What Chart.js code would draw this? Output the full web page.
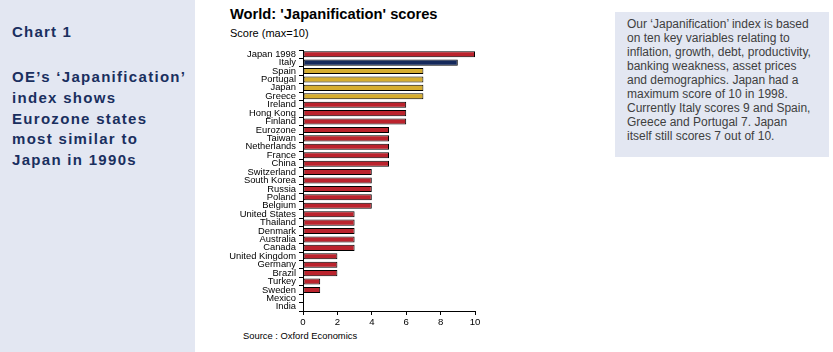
<!DOCTYPE html>
<html>
<head>
<meta charset="utf-8">
<script src="https://cdn.jsdelivr.net/npm/chart.js@4"></script>
<style>
    body { margin: 0; width: 833px; height: 352px; background: #fff; font-family: "Liberation Sans", Arial, sans-serif; position: relative; overflow: hidden; }
    .side { position: absolute; left: 0; top: 0; width: 195px; height: 352px; background: #e3e7f2; }
    .side .head { position: absolute; left: 12px; top: 23px; font-size: 15px; font-weight: bold; color: #1a2f5f; letter-spacing: 1.2px; }
    .side .lede { position: absolute; left: 12px; top: 67px; font-size: 15px; font-weight: bold; color: #1a2f5f; line-height: 20.8px; letter-spacing: 1.3px; }
    .note { position: absolute; left: 615px; top: 12px; width: 214px; height: 145px; background: #e3e7f2; }
    .note p { margin: 0; position: absolute; left: 12px; top: 5px; font-size: 12px; line-height: 14px; color: #404040; }
    .title { position: absolute; left: 230px; top: 6px; font-size: 14.7px; font-weight: bold; color: #000; }
    .unit { position: absolute; left: 230px; top: 27px; font-size: 11px; color: #000; }
    .source { position: absolute; left: 243px; top: 330px; font-size: 9.4px; color: #000; }
    #wrap { position: absolute; left: 200px; top: 40px; width: 290px; height: 300px; }
</style>
</head>
<body>
<div class="side">
    <div class="head">Chart 1</div>
    <div class="lede">OE’s ‘Japanification’<br>index shows<br>Eurozone states<br>most similar to<br>Japan in 1990s</div>
</div>
<div class="title">World: 'Japanification' scores</div>
<div class="unit">Score (max=10)</div>
<div class="source">Source : Oxford Economics</div>
<div class="note"><p>Our ‘Japanification’ index is based<br>on ten key variables relating to<br>inflation, growth, debt, productivity,<br>banking weakness, asset prices<br>and demographics. Japan had a<br>maximum score of 10 in 1998.<br>Currently Italy scores 9 and Spain,<br>Greece and Portugal 7. Japan<br>itself still scores 7 out of 10.</p></div>
<div id="wrap"><canvas id="chart"></canvas></div>
<script>
// Data
const countries = ['Japan 1998', 'Italy', 'Spain', 'Portugal', 'Japan', 'Greece', 'Ireland', 'Hong Kong', 'Finland',
    'Eurozone', 'Taiwan', 'Netherlands', 'France', 'China', 'Switzerland', 'South Korea', 'Russia', 'Poland', 'Belgium',
    'United States', 'Thailand', 'Denmark', 'Australia', 'Canada', 'United Kingdom', 'Germany', 'Brazil', 'Turkey',
    'Sweden', 'Mexico', 'India'];
const scores = [10, 9, 7, 7, 7, 7, 6, 6, 6, 5, 5, 5, 5, 5, 4, 4, 4, 4, 4, 3, 3, 3, 3, 3, 2, 2, 2, 1, 1, 0, 0];
const highlightGroup = ['base', 'italy', 'peer', 'peer', 'peer', 'peer', 'base', 'base', 'base', 'base', 'base', 'base',
    'base', 'base', 'base', 'base', 'base', 'base', 'base', 'base', 'base', 'base', 'base', 'base', 'base', 'base',
    'base', 'base', 'base', 'base', 'base'];
const xTicks = [0, 2, 4, 6, 8, 10];

const groupColours = { base: '#bb232d', italy: '#14285a', peer: '#d6ad2f' };

Chart.defaults.font.family = '"Liberation Sans", Arial, sans-serif';
Chart.defaults.color = '#000';

new Chart(document.getElementById('chart'), {
    type: 'bar',
    data: {
        labels: countries,
        datasets: [{
            data: scores,
            backgroundColor: highlightGroup.map(g => groupColours[g]),
            borderColor: '#000',
            borderWidth: 1,
            borderSkipped: false,
            barPercentage: 0.72,
            categoryPercentage: 1
        }]
    },
    options: {
        indexAxis: 'y',
        responsive: true,
        maintainAspectRatio: false,
        animation: false,
        layout: { padding: { top: 10, right: 15, left: 0, bottom: 0 } },
        plugins: { legend: { display: false }, tooltip: { enabled: false } },
        scales: {
            x: {
                min: 0,
                max: 10,
                afterBuildTicks: axis => { axis.ticks = xTicks.map(v => ({ value: v })); },
                afterFit: axis => { axis.height = 29; },
                grid: { drawOnChartArea: false, drawTicks: true, tickLength: 4, color: '#000' },
                border: { color: '#000', width: 1 },
                ticks: { font: { size: 9.6 }, padding: 2, maxRotation: 0 }
            },
            y: {
                afterFit: axis => { axis.width = 103; },
                grid: { drawOnChartArea: false, drawTicks: true, tickLength: 4, color: '#000', offset: true },
                border: { color: '#000', width: 1 },
                ticks: { font: { size: 9.4 }, autoSkip: false, padding: 3 }
            }
        }
    }
});
</script>
</body>
</html>
